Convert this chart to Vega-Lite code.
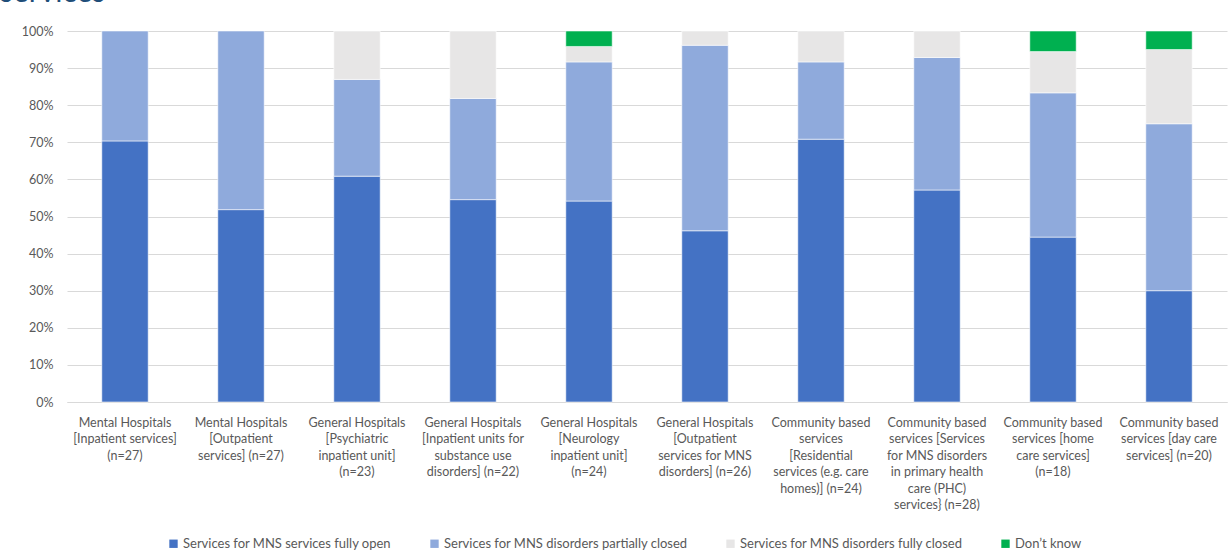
{
  "$schema": "https://vega.github.io/schema/vega-lite/v6.json",
  "width": 1160,
  "height": 371,
  "autosize": {"type": "none"},
  "padding": {"left": 67, "top": 31, "right": 3, "bottom": 156},
  "background": "white",
  "title": {
    "text": "services",
    "anchor": "start",
    "frame": "group",
    "dx": -67,
    "dy": 7,
    "offset": 0,
    "baseline": "alphabetic",
    "fontSize": 30,
    "font": "Lato",
    "fontWeight": "normal",
    "color": "#1F4E79"
  },
  "data": {
    "values": [
      {"cat": "Mental Hospitals|[Inpatient services]|(n=27)", "status": "Services for MNS services fully open", "k": 1, "n": 19},
      {"cat": "Mental Hospitals|[Inpatient services]|(n=27)", "status": "Services for MNS disorders partially closed", "k": 2, "n": 8},
      {"cat": "Mental Hospitals|[Outpatient|services] (n=27)", "status": "Services for MNS services fully open", "k": 1, "n": 14},
      {"cat": "Mental Hospitals|[Outpatient|services] (n=27)", "status": "Services for MNS disorders partially closed", "k": 2, "n": 13},
      {"cat": "General Hospitals|[Psychiatric|inpatient unit]|(n=23)", "status": "Services for MNS services fully open", "k": 1, "n": 14},
      {"cat": "General Hospitals|[Psychiatric|inpatient unit]|(n=23)", "status": "Services for MNS disorders partially closed", "k": 2, "n": 6},
      {"cat": "General Hospitals|[Psychiatric|inpatient unit]|(n=23)", "status": "Services for MNS disorders fully closed", "k": 3, "n": 3},
      {"cat": "General Hospitals|[Inpatient units for|substance use|disorders] (n=22)", "status": "Services for MNS services fully open", "k": 1, "n": 12},
      {"cat": "General Hospitals|[Inpatient units for|substance use|disorders] (n=22)", "status": "Services for MNS disorders partially closed", "k": 2, "n": 6},
      {"cat": "General Hospitals|[Inpatient units for|substance use|disorders] (n=22)", "status": "Services for MNS disorders fully closed", "k": 3, "n": 4},
      {"cat": "General Hospitals|[Neurology|inpatient unit]|(n=24)", "status": "Services for MNS services fully open", "k": 1, "n": 13},
      {"cat": "General Hospitals|[Neurology|inpatient unit]|(n=24)", "status": "Services for MNS disorders partially closed", "k": 2, "n": 9},
      {"cat": "General Hospitals|[Neurology|inpatient unit]|(n=24)", "status": "Services for MNS disorders fully closed", "k": 3, "n": 1},
      {"cat": "General Hospitals|[Neurology|inpatient unit]|(n=24)", "status": "Don’t know", "k": 4, "n": 1},
      {"cat": "General Hospitals|[Outpatient|services for MNS|disorders] (n=26)", "status": "Services for MNS services fully open", "k": 1, "n": 12},
      {"cat": "General Hospitals|[Outpatient|services for MNS|disorders] (n=26)", "status": "Services for MNS disorders partially closed", "k": 2, "n": 13},
      {"cat": "General Hospitals|[Outpatient|services for MNS|disorders] (n=26)", "status": "Services for MNS disorders fully closed", "k": 3, "n": 1},
      {"cat": "Community based|services|[Residential|services (e.g. care|homes)] (n=24)", "status": "Services for MNS services fully open", "k": 1, "n": 17},
      {"cat": "Community based|services|[Residential|services (e.g. care|homes)] (n=24)", "status": "Services for MNS disorders partially closed", "k": 2, "n": 5},
      {"cat": "Community based|services|[Residential|services (e.g. care|homes)] (n=24)", "status": "Services for MNS disorders fully closed", "k": 3, "n": 2},
      {"cat": "Community based|services [Services|for MNS disorders|in primary health|care (PHC)|services} (n=28)", "status": "Services for MNS services fully open", "k": 1, "n": 16},
      {"cat": "Community based|services [Services|for MNS disorders|in primary health|care (PHC)|services} (n=28)", "status": "Services for MNS disorders partially closed", "k": 2, "n": 10},
      {"cat": "Community based|services [Services|for MNS disorders|in primary health|care (PHC)|services} (n=28)", "status": "Services for MNS disorders fully closed", "k": 3, "n": 2},
      {"cat": "Community based|services [home|care services]|(n=18)", "status": "Services for MNS services fully open", "k": 1, "n": 8},
      {"cat": "Community based|services [home|care services]|(n=18)", "status": "Services for MNS disorders partially closed", "k": 2, "n": 7},
      {"cat": "Community based|services [home|care services]|(n=18)", "status": "Services for MNS disorders fully closed", "k": 3, "n": 2},
      {"cat": "Community based|services [home|care services]|(n=18)", "status": "Don’t know", "k": 4, "n": 1},
      {"cat": "Community based|services [day care|services] (n=20)", "status": "Services for MNS services fully open", "k": 1, "n": 6},
      {"cat": "Community based|services [day care|services] (n=20)", "status": "Services for MNS disorders partially closed", "k": 2, "n": 9},
      {"cat": "Community based|services [day care|services] (n=20)", "status": "Services for MNS disorders fully closed", "k": 3, "n": 4},
      {"cat": "Community based|services [day care|services] (n=20)", "status": "Don’t know", "k": 4, "n": 1}
    ]
  },
  "mark": {"type": "bar", "stroke": "white", "strokeWidth": 0.7, "strokeOpacity": 0.8},
  "encoding": {
    "x": {
      "field": "cat",
      "type": "nominal",
      "sort": null,
      "title": null,
      "scale": {"paddingInner": 0.6, "paddingOuter": 0.3},
      "axis": {
        "labelAngle": 0,
        "labelExpr": "split(datum.label, '|')",
        "labelLineHeight": 16.5,
        "labelPadding": 14,
        "ticks": false,
        "domain": true,
        "domainColor": "#D9D9D9",
        "labelFontSize": 12.5,
        "labelColor": "#595959",
        "labelFont": "Lato",
        "labelLimit": 200
      }
    },
    "y": {
      "field": "n",
      "type": "quantitative",
      "stack": "normalize",
      "title": null,
      "scale": {"domain": [0, 1]},
      "axis": {
        "format": "%",
        "values": [0, 0.1, 0.2, 0.3, 0.4, 0.5, 0.6, 0.7, 0.8, 0.9, 1],
        "grid": true,
        "gridColor": "#D9D9D9",
        "domain": false,
        "ticks": false,
        "labelPadding": 14,
        "labelFontSize": 12.5,
        "labelColor": "#595959",
        "labelFont": "Lato"
      }
    },
    "order": {"field": "k", "type": "quantitative"},
    "color": {
      "field": "status",
      "type": "nominal",
      "scale": {
        "domain": ["Services for MNS services fully open", "Services for MNS disorders partially closed", "Services for MNS disorders fully closed", "Don’t know"],
        "range": ["#4472C4", "#8FAADC", "#E7E6E6", "#00B050"]
      },
      "legend": {
        "title": null,
        "orient": "none",
        "direction": "horizontal",
        "legendX": 100,
        "legendY": 506,
        "symbolType": "square",
        "symbolSize": 70,
        "symbolStrokeWidth": 0,
        "labelOffset": 3,
        "columnPadding": 36,
        "labelFontSize": 13,
        "labelColor": "#595959",
        "labelFont": "Lato",
        "labelLimit": 400
      }
    }
  },
  "config": {"view": {"stroke": null}}
}
